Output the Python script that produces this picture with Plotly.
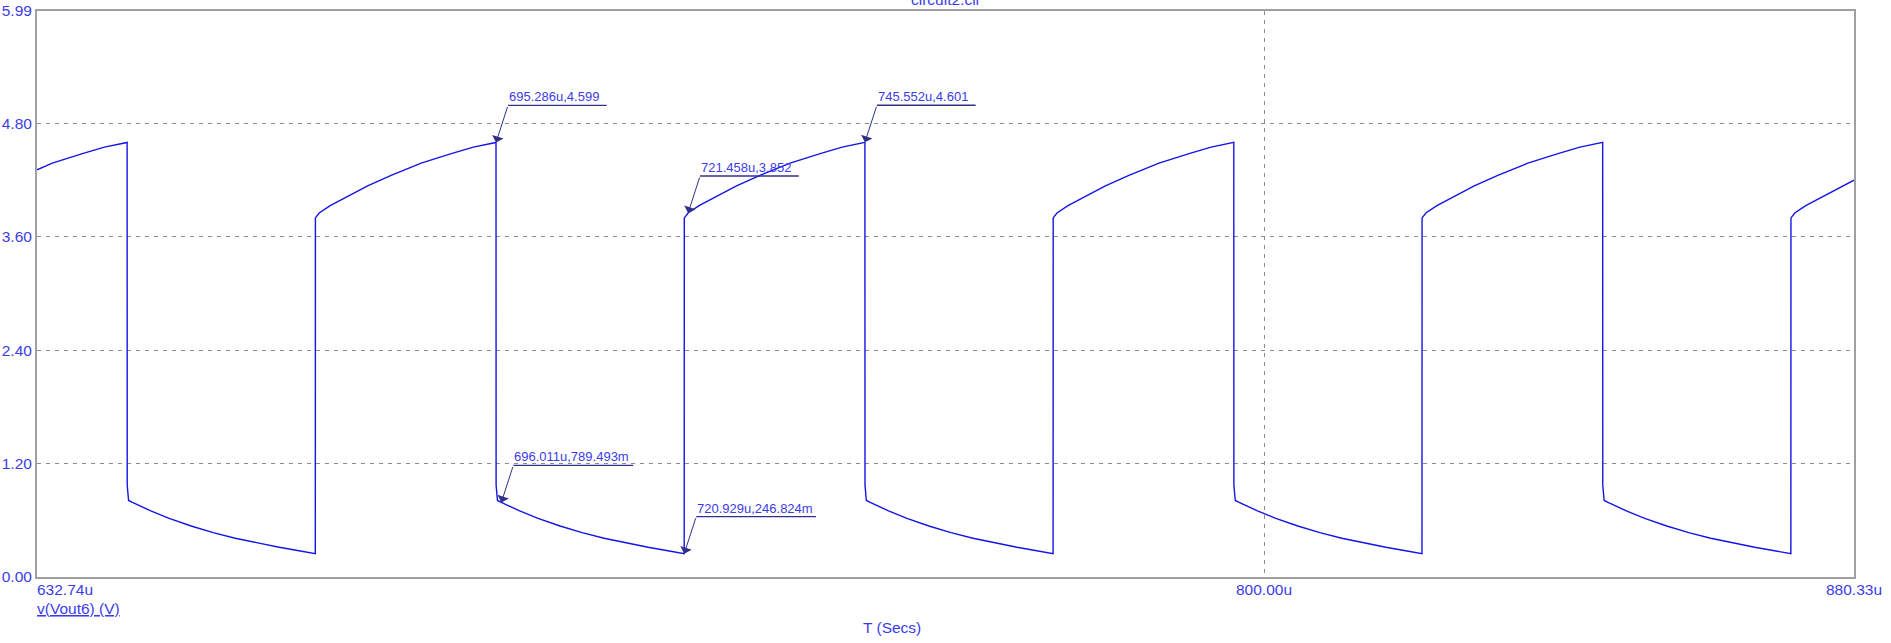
import plotly.graph_objects as go

# ---- data ----
time_us = [
    632.740, 634.826, 638.926, 641.926, 645.020, 645.034, 645.220, 645.745, 648.245, 650.745,
    653.745, 656.745, 659.745, 662.745, 665.745, 668.245, 670.663, 670.677, 671.192, 672.692,
    674.192, 675.992, 677.792, 680.992, 685.092, 689.192, 692.192, 695.286, 695.300, 695.486,
    696.011, 698.511, 701.011, 704.011, 707.011, 710.011, 713.011, 716.011, 718.511, 720.929,
    720.943, 721.458, 722.958, 724.458, 726.258, 728.058, 731.258, 735.358, 739.458, 742.458,
    745.552, 745.566, 745.752, 746.277, 748.777, 751.277, 754.277, 757.277, 760.277, 763.277,
    766.277, 768.777, 771.195, 771.209, 771.724, 773.224, 774.724, 776.524, 778.324, 781.524,
    785.624, 789.724, 792.724, 795.818, 795.832, 796.018, 796.543, 799.043, 801.543, 804.543,
    807.543, 810.543, 813.543, 816.543, 819.043, 821.461, 821.475, 821.990, 823.490, 824.990,
    826.790, 828.590, 831.790, 835.890, 839.990, 842.990, 846.084, 846.098, 846.284, 846.809,
    849.309, 851.809, 854.809, 857.809, 860.809, 863.809, 866.809, 869.309, 871.727, 871.741,
    872.256, 873.756, 875.256, 877.056, 878.856, 880.330,
]
vout_v = [
    4.31, 4.38, 4.48, 4.55, 4.599, 0.97, 0.81, 0.789, 0.70, 0.62,
    0.54, 0.47, 0.41, 0.36, 0.315, 0.28, 0.247, 3.80, 3.852, 3.93,
    3.99, 4.07, 4.14, 4.25, 4.38, 4.48, 4.55, 4.599, 0.97, 0.81,
    0.789, 0.70, 0.62, 0.54, 0.47, 0.41, 0.36, 0.315, 0.28, 0.247,
    3.80, 3.852, 3.93, 3.99, 4.07, 4.14, 4.25, 4.38, 4.48, 4.55,
    4.601, 0.97, 0.81, 0.789, 0.70, 0.62, 0.54, 0.47, 0.41, 0.36,
    0.315, 0.28, 0.247, 3.80, 3.852, 3.93, 3.99, 4.07, 4.14, 4.25,
    4.38, 4.48, 4.55, 4.600, 0.97, 0.81, 0.789, 0.70, 0.62, 0.54,
    0.47, 0.41, 0.36, 0.315, 0.28, 0.247, 3.80, 3.852, 3.93, 3.99,
    4.07, 4.14, 4.25, 4.38, 4.48, 4.55, 4.600, 0.97, 0.81, 0.789,
    0.70, 0.62, 0.54, 0.47, 0.41, 0.36, 0.315, 0.28, 0.247, 3.80,
    3.852, 3.93, 3.99, 4.07, 4.14, 4.20,
]

marker_t = [695.286, 721.458, 745.552, 696.011, 720.929]
marker_v = [4.599, 3.852, 4.601, 0.789493, 0.246824]
marker_labels = ["695.286u,4.599", "721.458u,3.852", "745.552u,4.601",
                 "696.011u,789.493m", "720.929u,246.824m"]

y_ticks = [0.0, 1.2, 2.4, 3.6, 4.8, 5.99]
y_tick_labels = ["0.00", "1.20", "2.40", "3.60", "4.80", "5.99"]
x_min, x_max = 632.74, 880.33
x_tick_vals = [632.74, 800.0, 880.33]
x_tick_labels = ["632.74u", "800.00u", "880.33u"]
y_min, y_max = 0.0, 5.99

title_text = "circuit2.cir"
trace_name = "v(Vout6) (V)"
x_title = "T (Secs)"

# ---- styles ----
FONT = "Liberation Sans, Arial, sans-serif"
TXT = "#3c3ce6"
LINE = "#1414e6"
NAVY = "#30308a"
BORDER = "#a0a0a0"
GRID = "#8c8c8c"

fig = go.Figure()
fig.add_trace(go.Scatter(x=time_us, y=vout_v, mode="lines",
                         line=dict(color=LINE, width=1.4), name=trace_name,
                         showlegend=False, hoverinfo="x+y"))

annotations = []
shapes = []
for t, v, lab in zip(marker_t, marker_v, marker_labels):
    ul = 7.05 * len(lab)
    # leader line with arrowhead
    annotations.append(dict(x=t, y=v, xref="x", yref="y", text="", showarrow=True,
                            ax=12, ay=-37, axref="pixel", ayref="pixel",
                            arrowhead=1, arrowsize=2, arrowwidth=1,
                            arrowcolor=NAVY, standoff=0))
    # label text
    annotations.append(dict(x=t, y=v, xref="x", yref="y", text=lab, showarrow=False,
                            xanchor="left", yanchor="bottom", xshift=12, yshift=37,
                            borderpad=0,
                            font=dict(family=FONT, size=13, color=TXT)))
    # underline
    shapes.append(dict(type="line", xref="x", yref="y",
                       xsizemode="pixel", xanchor=t, x0=12, x1=12 + ul,
                       ysizemode="pixel", yanchor=v, y0=37, y1=37,
                       line=dict(color=NAVY, width=1.3)))

# x tick labels
for i, (xv, xl) in enumerate(zip(x_tick_vals, x_tick_labels)):
    annotations.append(dict(x=xv, y=0, xref="x", yref="paper", text=xl, showarrow=False,
                            xanchor="left" if i == 0 else "center", yanchor="middle",
                            yshift=-12, xshift=-2 if i == 0 else 0,
                            font=dict(family=FONT, size=15.5, color=TXT)))
# trace name (underlined)
annotations.append(dict(x=x_min, y=0, xref="x", yref="paper", text="<u>" + trace_name + "</u>",
                        showarrow=False, xanchor="left", yanchor="middle", yshift=-31, xshift=-2,
                        font=dict(family=FONT, size=15.5, color=TXT)))
# x title
annotations.append(dict(x=0.4703, y=0, xref="paper", yref="paper", text=x_title,
                        showarrow=False, xanchor="center", yanchor="middle", yshift=-50,
                        font=dict(family=FONT, size=15.5, color=TXT)))
# title
annotations.append(dict(x=0.5, y=1, xref="paper", yref="paper", text=title_text,
                        showarrow=False, xanchor="center", yanchor="bottom", yshift=1,
                        font=dict(family=FONT, size=15.5, color=TXT)))

fig.update_layout(
    width=1891, height=643,
    margin=dict(l=37, r=37, t=11, b=66, autoexpand=False),
    paper_bgcolor="white", plot_bgcolor="white",
    annotations=annotations, shapes=shapes,
    showlegend=False,
)
fig.update_xaxes(range=[x_min, x_max], tickvals=[800.0], showticklabels=False,
                 showgrid=True, gridcolor=GRID, griddash="4px,5px", gridwidth=1,
                 showline=True, mirror=True, linecolor=BORDER, linewidth=2,
                 zeroline=False, ticks="", automargin=False)
fig.update_yaxes(range=[y_min, y_max], tickvals=y_ticks, ticktext=y_tick_labels,
                 showgrid=True, gridcolor=GRID, griddash="4px,5px", gridwidth=1,
                 showline=True, mirror=True, linecolor=BORDER, linewidth=2,
                 zeroline=False, ticks="", automargin=False,
                 tickfont=dict(family=FONT, size=15.5, color=TXT))

fig.write_html("out.html")
